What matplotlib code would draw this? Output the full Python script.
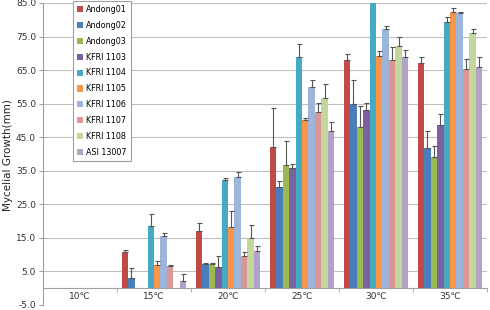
from matplotlib import pyplot as plt
from matplotlib.patches import Patch
from matplotlib.ticker import FixedLocator, FormatStrFormatter

import numpy as np

temps = ['10℃', '15℃', '20℃', '25℃', '30℃', '35℃']
strains = ['Andong01', 'Andong02', 'Andong03', 'KFRI 1103', 'KFRI 1104',
           'KFRI 1105', 'KFRI 1106', 'KFRI 1107', 'KFRI 1108', 'ASI 13007']
colors = ['#BE4B48', '#4A7EBB', '#98B954', '#7D60A0', '#46AAC5',
          '#F79646', '#9DB5DB', '#DB9695', '#C3D69B', '#B3A2C7']

# mean growth (mm) per strain, one value per temperature
andong01 = [0, 10.8, 17.2, 42.1, 67.9, 67.2]
andong02 = [0, 3.0, 7.1, 30.2, 55.0, 41.8]
andong03 = [0, 0, 7.1, 36.6, 48.0, 39.1]
kfri1103 = [0, 0, 6.3, 35.7, 53.1, 48.7]
kfri1104 = [0, 18.6, 32.4, 69.0, 88.0, 79.2]
kfri1105 = [0, 6.9, 18.2, 50.1, 69.1, 82.4]
kfri1106 = [0, 15.5, 33.2, 60.0, 77.2, 81.9]
kfri1107 = [0, 6.7, 9.6, 52.4, 67.9, 65.4]
kfri1108 = [0, 0, 15.0, 56.8, 72.3, 76.0]
asi13007 = [0, 2.2, 11.2, 47.0, 68.9, 65.9]

# upper error (mm)
err_andong01 = [0, 0.6, 2.2, 11.6, 2.0, 1.7]
err_andong02 = [0, 3.1, 0.3, 1.7, 7.2, 5.0]
err_andong03 = [0, 0, 0.3, 7.4, 6.4, 3.4]
err_kfri1103 = [0, 0, 3.4, 1.2, 2.0, 3.2]
err_kfri1104 = [0, 3.6, 0.5, 3.9, 0, 1.5]
err_kfri1105 = [0, 1.2, 4.7, 0.6, 1.5, 1.0]
err_kfri1106 = [0, 1.0, 1.5, 2.2, 1.0, 0.5]
err_kfri1107 = [0, 0.2, 1.2, 2.7, 3.9, 3.0]
err_kfri1108 = [0, 0, 3.7, 4.2, 2.5, 1.2]
err_asi13007 = [0, 2.1, 1.3, 2.5, 2.0, 3.0]

means = [andong01, andong02, andong03, kfri1103, kfri1104,
         kfri1105, kfri1106, kfri1107, kfri1108, asi13007]
errs = [err_andong01, err_andong02, err_andong03, err_kfri1103, err_kfri1104,
        err_kfri1105, err_kfri1106, err_kfri1107, err_kfri1108, err_asi13007]

plt.rcParams['font.family'] = ['DejaVu Sans']

fig = plt.figure(figsize=(4.9, 3.1), dpi=100)
ax = fig.add_axes([43 / 490, 5 / 310, 444 / 490, 302 / 310])

x = np.arange(len(temps))
n = len(strains)
bw = 0.873 / n

for i, (m, e, c) in enumerate(zip(means, errs, colors)):
    xs = x - 0.873 / 2 + bw * (i + 0.5)
    m = np.array(m, dtype=float)
    e = np.array(e, dtype=float)
    ax.bar(xs, m, width=bw, color=c, zorder=2)
    mask = e > 0
    ax.errorbar(xs[mask], m[mask], yerr=[np.zeros(mask.sum()), e[mask]],
                fmt='none', ecolor='#555555', elinewidth=0.8, capsize=1.8,
                capthick=0.8, zorder=3)

ax.set_xlim(-0.5, len(temps) - 0.5)
ax.set_ylim(-5, 85)
ax.yaxis.set_major_locator(FixedLocator(np.arange(-5, 86, 10)))
ax.yaxis.set_major_formatter(FormatStrFormatter('%.1f'))
ax.grid(axis='y', color='#BFBFBF', linewidth=0.8, zorder=0)
ax.set_axisbelow(True)

ax.spines['top'].set_visible(False)
ax.spines['right'].set_visible(False)
ax.spines['left'].set_color('#A0A0A0')
ax.spines['bottom'].set_position(('data', 0))
ax.spines['bottom'].set_color('#A0A0A0')

ax.set_xticks(x)
ax.set_xticklabels(temps, fontsize=6.5, color='#333333')
ax.set_xticks(np.arange(-0.5, len(temps), 1), minor=True)
ax.tick_params(axis='x', which='major', length=0, pad=3)
ax.tick_params(axis='x', which='minor', length=3, color='#A0A0A0')
ax.tick_params(axis='y', labelsize=6.5, labelcolor='#333333', length=3,
               color='#A0A0A0', pad=2)

fig.text(8 / 490, 0.5, 'Mycelial Growth(mm)', rotation=90, fontsize=7.5,
         va='center', ha='center', color='#222222')

handles = [Patch(facecolor=c, edgecolor='none') for c in colors]
leg = ax.legend(handles, strains, loc='upper left',
                bbox_to_anchor=(73 / 490, 1 - 1 / 310),
                bbox_transform=fig.transFigure, borderaxespad=0,
                fontsize=5.8, handlelength=0.8, handleheight=0.8,
                handletextpad=0.3, labelspacing=0.85, borderpad=0.5,
                fancybox=False, framealpha=1, edgecolor='#A0A0A0')
leg.get_frame().set_linewidth(0.8)

fig.savefig('out.png', dpi=100)
